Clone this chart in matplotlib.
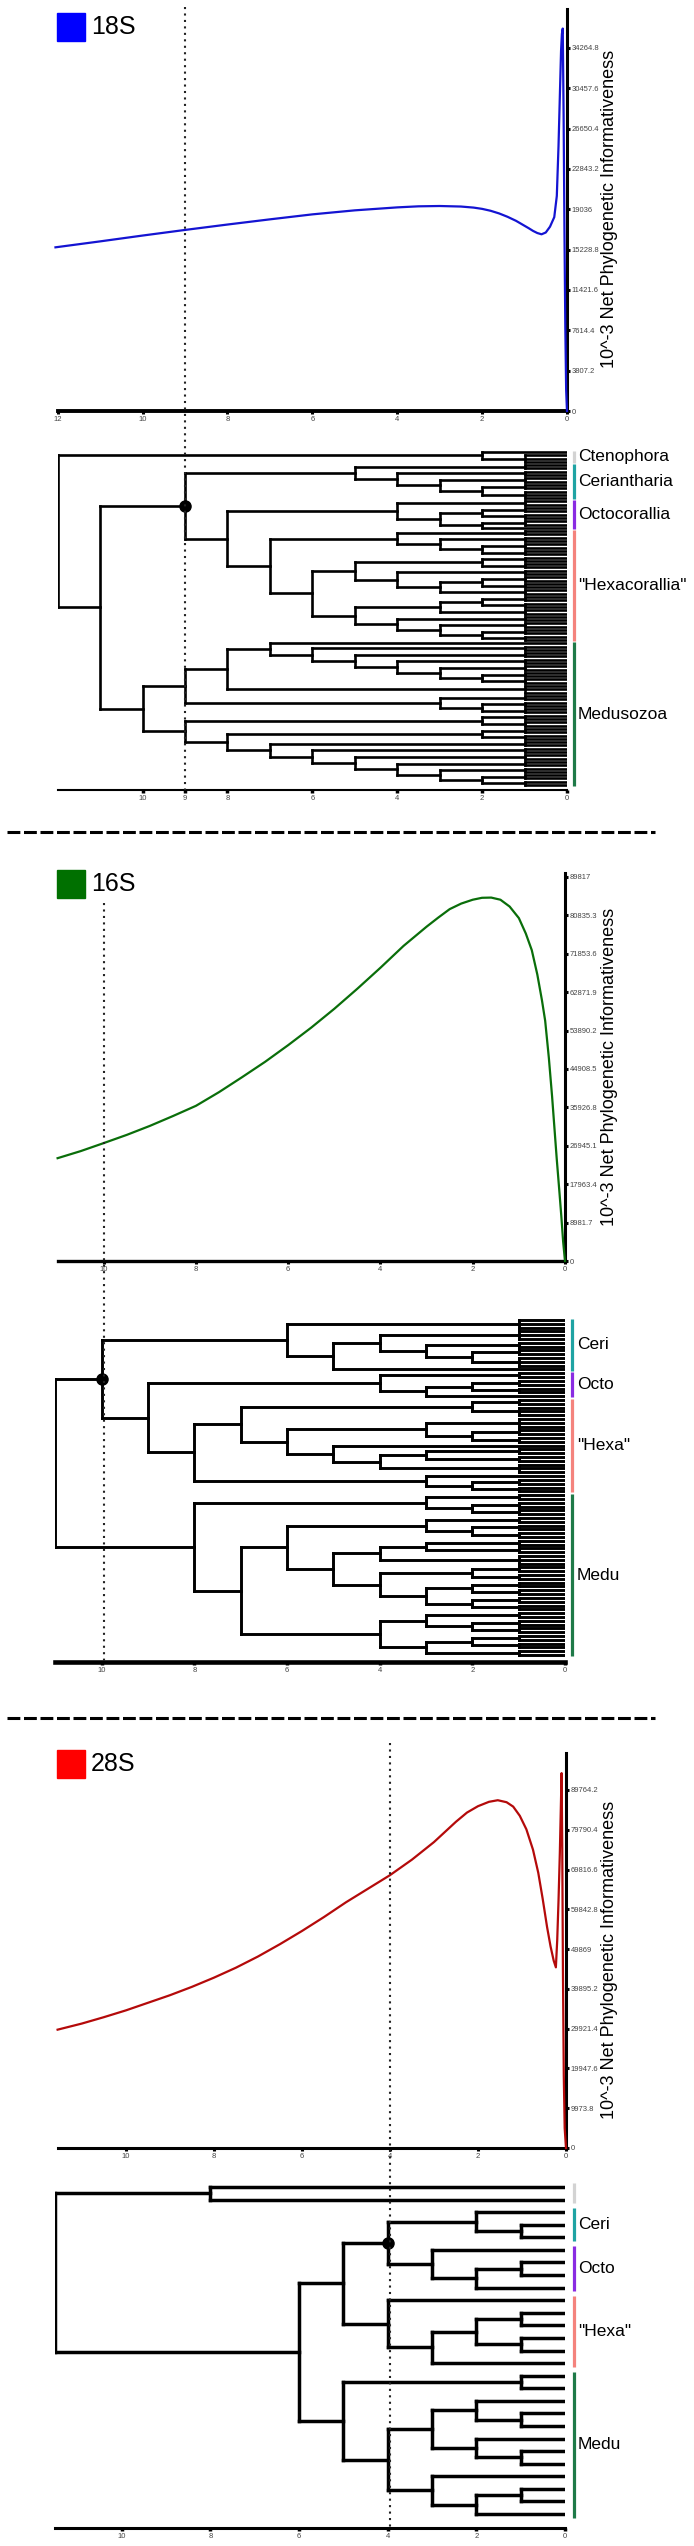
import matplotlib
matplotlib.use("Agg")
import matplotlib.pyplot as plt
from matplotlib.patches import Rectangle
from matplotlib.lines import Line2D
from matplotlib.transforms import blended_transform_factory

plt.rcParams['font.family'] = ['Liberation Sans', 'DejaVu Sans']

W, H = 694, 2546

# ---------------------------------------------------------------
# informativeness curves (age before present, 10^-3 net PI)
# ---------------------------------------------------------------
x_18s = [12.05, 11.0, 10.0, 9.0, 8.0, 7.0, 6.0, 5.0, 4.0, 3.5, 3.0, 2.5, 2.2, 2.0, 1.8,
         1.6, 1.4, 1.2, 1.05, 0.9, 0.8, 0.7, 0.6, 0.5, 0.4, 0.3, 0.24, 0.2, 0.17, 0.14,
         0.12, 0.1, 0.08, 0.06, 0.04, 0.02, 0.0]
pi_18s = [15450, 16010, 16560, 17090, 17600, 18090, 18560, 18940, 19220, 19320,
          19350, 19300, 19200, 19080, 18900, 18650, 18330, 17950, 17600, 17250,
          17000, 16800, 16680, 16850, 17400, 18300, 20300, 25000, 29500, 34000,
          35600, 36100, 28000, 17000, 8000, 2000, 0]

x_16s = [11.0, 10.5, 10.0, 9.5, 9.0, 8.5, 8.0, 7.5, 7.0, 6.5, 6.0, 5.5, 5.0, 4.5, 4.0,
         3.5, 3.0, 2.75, 2.5, 2.25, 2.0, 1.8, 1.6, 1.4, 1.2, 1.0, 0.85, 0.72, 0.6, 0.5,
         0.43, 0.35, 0.28, 0.24, 0.18, 0.12, 0.08, 0.04, 0.0]
pi_16s = [24050, 25700, 27580, 29500, 31600, 33900, 36300, 39500, 43000, 46600,
          50500, 54600, 59000, 63700, 68600, 73700, 78200, 80300, 82300, 83600,
          84500, 84950, 85000, 84500, 82900, 80200, 76600, 72700, 67000, 61000,
          56200, 47500, 38500, 32700, 24000, 16000, 10500, 4500, 0]

x_28s = [11.55, 11.0, 10.5, 10.0, 9.5, 9.0, 8.5, 8.0, 7.5, 7.0, 6.5, 6.0, 5.5, 5.0,
         4.5, 4.0, 3.5, 3.0, 2.5, 2.25, 2.0, 1.75, 1.55, 1.35, 1.2, 1.05, 0.9, 0.75,
         0.63, 0.53, 0.43, 0.35, 0.28, 0.23, 0.2, 0.17, 0.14, 0.12, 0.1, 0.085, 0.07,
         0.05, 0.03, 0.0]
pi_28s = [29670, 31200, 32800, 34500, 36400, 38300, 40400, 42700, 45200, 48000,
          51100, 54400, 57900, 61600, 65000, 68400, 72300, 76700, 81800, 84100,
          85700, 86800, 87200, 86700, 85600, 83300, 79900, 74800, 69000, 62500,
          55400, 50500, 47000, 45300, 52000, 62000, 74000, 84000, 94000, 75000,
          45000, 18000, 5000, 0]

yticks_18s = [0, 3807.2, 7614.4, 11421.6, 15228.8, 19036, 22843.2, 26650.4, 30457.6, 34264.8]
yticks_16s = [0, 8981.7, 17963.4, 26945.1, 35926.8, 44908.5, 53890.2, 62871.9, 71853.6,
              80835.3, 89817]
yticks_28s = [0, 9973.8, 19947.6, 29921.4, 39895.2, 49869, 59842.8, 69816.6, 79790.4,
              89764.2]

xticks_18s = [12, 10, 8, 6, 4, 2, 0]
xticks_16s = [10, 8, 6, 4, 2, 0]
xticks_28s = [10, 8, 6, 4, 2, 0]
tree_ticks_18s = [10, 9, 8, 6, 4, 2, 0]
tree_ticks_16s = [10, 8, 6, 4, 2, 0]
tree_ticks_28s = [10, 8, 6, 4, 2, 0]

# ---------------------------------------------------------------
# trees: node = (age, [children]); int = tips on an age-1 node (1 = single tip)
# ---------------------------------------------------------------
cteno_18s = (2, [1, 3])
ceri_18s = (5, [2, (4, [2, (3, [2, (2, [2, 3])])])])
octo_18s = (4, [2, (3, [(2, [2, 2]), (2, [2, 1])])])
hexa_18s = (7, [(4, [2, (3, [2, (2, [2, 2])])]),
                (6, [(5, [(2, [2, 2]), (4, [2, (3, [(2, [2, 2]), 2])])]),
                     (5, [(3, [(2, [2, 2]), 2]), (4, [2, (3, [2, (2, [2, 2])])])])])])
medu_18s = (10, [(9, [(8, [(7, [1, (6, [2, (5, [2, (4, [2, (3, [2, (2, [2, 2])])])])])]), 3]),
                      (3, [2, (2, [2, 2])])]),
                 (9, [(2, [2, 2]),
                      (8, [(2, [2, 2]),
                           (7, [2, (6, [2, (5, [2, (4, [2, (3, [2, (2, [2, 2])])])])])])])])])
anthozoa_18s = (9, [ceri_18s, (8, [octo_18s, hexa_18s])])
tree_18s = (12, [cteno_18s, (11, [anthozoa_18s, medu_18s])])

ceri_16s = (6, [3, (5, [(4, [3, (3, [2, (2, [2, 3])])]), 1])])
octo_16s = (4, [2, (3, [(2, [2, 2]), 1])])
hexa_16s = (8, [(7, [(2, [2, 3]), (6, [(3, [3, (2, [2, 2])]), (5, [1, (4, [(3, [2, 2]), 3])])])]),
                (3, [1, (2, [2, 2])])])
medu_16s = (8, [(3, [2, (2, [2, 2])]),
                (7, [(6, [(3, [2, (2, [2, 2])]),
                          (5, [(4, [(3, [2, 2]), 3]),
                               (4, [(2, [2, 2]), (3, [(2, [2, 2]), (2, [2, 2])])])])]),
                     (4, [(3, [2, (2, [2, 2])]), (3, [(2, [2, 2]), 2])])])])
anthozoa_16s = (10, [ceri_16s, (9, [octo_16s, hexa_16s])])
tree_16s = (11, [anthozoa_16s, medu_16s])

outgroup_28s = (8, [1, 1])
ceri_28s = (2, [1, 2])
octo_28s = (3, [1, (2, [2, 1])])
hexa_28s = (4, [1, (3, [(2, [2, 2]), 1])])
medu_28s = (5, [2, (4, [(3, [(2, [1, 2]), (2, [1, 2])]), (3, [1, (2, [2, 1])])])])
anthozoa_28s = (4, [ceri_28s, octo_28s])
tree_28s = (11.5, [outgroup_28s, (6, [(5, [anthozoa_28s, hexa_28s]), medu_28s])])

col_cteno, col_ceri, col_octo = '#d3d3d3', '#1fa3a3', '#8a2be2'
col_hexa, col_medu = '#f4837d', '#1f7a48'

groups_18s = [('Ctenophora', cteno_18s, col_cteno), ('Ceriantharia', ceri_18s, col_ceri),
              ('Octocorallia', octo_18s, col_octo), ('"Hexacorallia"', hexa_18s, col_hexa),
              ('Medusozoa', medu_18s, col_medu)]
groups_16s = [('Ceri', ceri_16s, col_ceri), ('Octo', octo_16s, col_octo),
              ('"Hexa"', hexa_16s, col_hexa), ('Medu', medu_16s, col_medu)]
groups_28s = [('', outgroup_28s, col_cteno), ('Ceri', ceri_28s, col_ceri),
              ('Octo', octo_28s, col_octo), ('"Hexa"', hexa_28s, col_hexa),
              ('Medu', medu_28s, col_medu)]

fig = plt.figure(figsize=(W / 100, H / 100), dpi=100)
fig.patch.set_facecolor('white')


def add_ax(left, top, right, bottom):
    return fig.add_axes([left / W, 1 - bottom / H, (right - left) / W, (bottom - top) / H])


def curve_panel(ax, x, y, color, xmax, ymax, yticks, xticks, xlw):
    ax.plot(x, y, color=color, lw=1.6, zorder=3, clip_on=False)
    ax.set_xlim(xmax, 0)
    ax.set_ylim(0, ymax)
    ax.patch.set_visible(False)
    ax.spines['top'].set_visible(False)
    ax.spines['left'].set_visible(False)
    ax.spines['right'].set_linewidth(2.2)
    ax.spines['bottom'].set_linewidth(xlw)
    ax.yaxis.tick_right()
    ax.set_yticks(yticks)
    ax.set_yticklabels(['{:g}'.format(v) for v in yticks])
    ax.set_xticks(xticks)
    ax.set_xticklabels([str(v) for v in xticks])
    ax.tick_params(axis='both', length=2.5, width=2.2, labelsize=5.5,
                   labelcolor='#444444', pad=1)


def draw_tree(ax, tree, lw):
    pos = {}
    count = [0]

    def seg(x0, x1, y0, y1):
        ax.plot([x0, x1], [y0, y1], color='black', lw=lw, solid_capstyle='projecting')

    def walk(n, parent_age):
        if isinstance(n, int):
            tips = list(range(count[0], count[0] + n))
            count[0] += n
            if n == 1:
                seg(parent_age, 0, tips[0], tips[0])
                return tips[0], tips[0], tips[0]
            for t in tips:
                seg(1, 0, t, t)
            seg(1, 1, tips[0], tips[-1])
            y = (tips[0] + tips[-1]) / 2
            seg(parent_age, 1, y, y)
            return y, tips[0], tips[-1]
        age, kids = n
        res = [walk(k, age) for k in kids]
        ys = [r[0] for r in res]
        seg(age, age, min(ys), max(ys))
        y = (min(ys) + max(ys)) / 2
        if parent_age is not None:
            seg(parent_age, age, y, y)
        pos[id(n)] = (age, y, res[0][1], res[-1][2])
        return y, res[0][1], res[-1][2]

    walk(tree, None)
    return pos, count[0]


def tree_panel(ax, tree, groups, dot_node, xmax, ticks, top, bottom, first, last,
               lw, axis_lw, bar_x, label_x):
    pos, n = draw_tree(ax, tree, lw)
    upp = (n - 1) / (last - first)
    ax.set_ylim((n - 1) + (bottom - last) * upp, -(first - top) * upp)
    ax.set_xlim(xmax, 0)
    ax.patch.set_visible(False)
    for s in ['top', 'left', 'right']:
        ax.spines[s].set_visible(False)
    ax.spines['bottom'].set_linewidth(axis_lw)
    ax.set_yticks([])
    ax.set_xticks(ticks)
    ax.set_xticklabels([str(v) for v in ticks])
    ax.tick_params(axis='x', length=2.5, width=2.5, labelsize=5.5, labelcolor='#444444', pad=1)
    age, y, _, _ = pos[id(dot_node)]
    ax.plot(age, y, 'o', color='black', ms=8, zorder=5)
    trans = blended_transform_factory(fig.transFigure, ax.transData)
    for name, node, c in groups:
        _, _, a, b = pos[id(node)]
        ax.plot([bar_x / W] * 2, [a - 0.3, b + 0.3], transform=trans, color=c, lw=2.3,
                solid_capstyle='butt', clip_on=False)
        if name:
            ax.text(label_x / W, (a + b) / 2, name, transform=trans, va='center',
                    ha='left', fontsize=12.5)


def gene_label(y_top, color, name):
    fig.add_artist(Rectangle((57 / W, 1 - (y_top + 28) / H), 28 / W, 28 / H,
                             transform=fig.transFigure, color=color))
    fig.text(91 / W, 1 - (y_top + 14) / H, name, fontsize=18, va='center', ha='left')


def y_label(yc):
    fig.text(609 / W, 1 - yc / H, '10^-3 Net Phylogenetic Informativeness',
             rotation=90, ha='center', va='center', fontsize=13)


def dotted(ax, xval, y0, y1):
    trans = blended_transform_factory(ax.transData, fig.transFigure)
    fig.add_artist(Line2D([xval, xval], [1 - y0 / H, 1 - y1 / H], transform=trans,
                          color='#222222', lw=1.5, linestyle=(0, (1, 2.1)), zorder=6))


def separator(y):
    fig.add_artist(Line2D([7 / W, 655 / W], [1 - y / H] * 2, transform=fig.transFigure,
                          color='black', lw=2.2, linestyle=(0, (4.2, 1.2))))


# ---- 18S ----
c1 = add_ax(57.6, 9, 567, 411)
curve_panel(c1, x_18s, pi_18s, '#1414d2', 12, 37946, yticks_18s, xticks_18s, 2.8)
t1 = add_ax(57.6, 440, 567, 790)
tree_panel(t1, tree_18s, groups_18s, anthozoa_18s, 12, tree_ticks_18s, 440, 790, 452, 785,
           1.9, 1.5, 574, 578)
gene_label(13, '#0000ff', '18S')
y_label(209)
dotted(c1, 9, 7, 790)

separator(832)

# ---- 16S ----
c2 = add_ax(57.6, 873, 565, 1261)
curve_panel(c2, x_16s, pi_16s, '#0a6e0a', 11, 90750, yticks_16s, xticks_16s, 2.4)
t2 = add_ax(55.4, 1300, 565, 1662)
tree_panel(t2, tree_16s, groups_16s, anthozoa_16s, 11, tree_ticks_16s, 1300, 1662, 1320, 1655,
           2.1, 3.3, 572, 577)
gene_label(870, '#007000', '16S')
y_label(1067)
dotted(c2, 10, 903, 1662)

separator(1718)

# ---- 28S ----
c3 = add_ax(57.6, 1753, 566, 2148)
curve_panel(c3, x_28s, pi_28s, '#b40a0a', 11.55, 99040, yticks_28s, xticks_28s, 2.2)
t3 = add_ax(55.4, 2170, 565, 2528)
tree_panel(t3, tree_28s, groups_28s, anthozoa_28s, 11.5, tree_ticks_28s, 2170, 2528, 2187, 2514,
           2.5, 2.2, 574, 578)
gene_label(1750, '#ff0000', '28S')
y_label(1960)
dotted(c3, 4, 1743, 2528)

fig.savefig('out.png', dpi=100, facecolor='white')
